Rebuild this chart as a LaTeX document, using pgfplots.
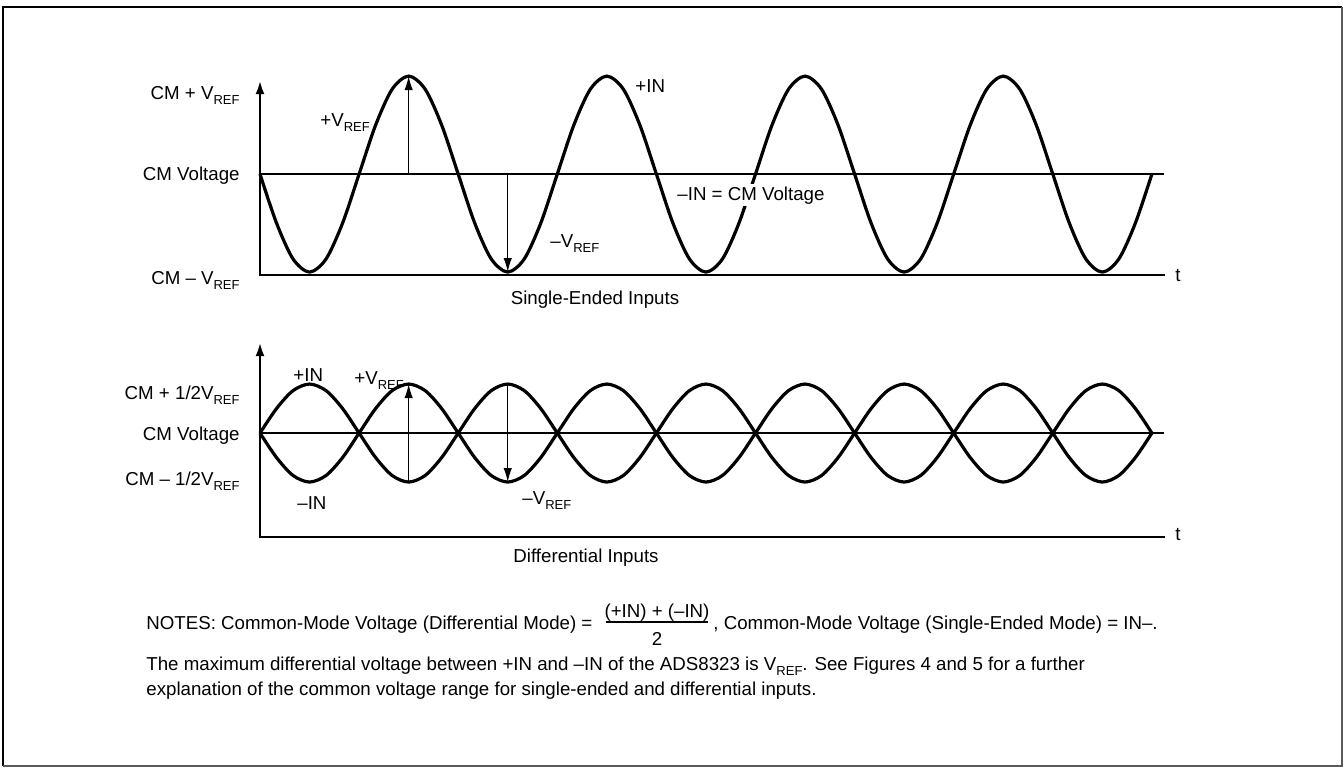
\documentclass[border=0pt]{standalone}
\usepackage{fontspec}
\setmainfont{Liberation Sans}
\usepackage{pgfplots}
\pgfplotsset{compat=1.18}
\usepackage{pgfplotstable}
\usetikzlibrary{arrows.meta}

% subscript as set in the datasheet (smaller, lowered)
\newcommand\sub[1]{\raisebox{-2.6pt}{\fontsize{6.5pt}{8pt}\selectfont #1}}
\newcommand\vref{V\sub{REF}}

% phase (deg), single-ended +IN (in VREF), differential +IN, differential -IN
\pgfplotstableread{
ph top pin nin
0 0 0 0
30 -0.5 0.25 -0.25
60 -0.866 0.433 -0.433
90 -1 0.5 -0.5
120 -0.866 0.433 -0.433
150 -0.5 0.25 -0.25
180 0 0 0
210 0.5 -0.25 0.25
240 0.866 -0.433 0.433
270 1 -0.5 0.5
300 0.866 -0.433 0.433
330 0.5 -0.25 0.25
360 0 0 0
390 -0.5 0.25 -0.25
420 -0.866 0.433 -0.433
450 -1 0.5 -0.5
480 -0.866 0.433 -0.433
510 -0.5 0.25 -0.25
540 0 0 0
570 0.5 -0.25 0.25
600 0.866 -0.433 0.433
630 1 -0.5 0.5
660 0.866 -0.433 0.433
690 0.5 -0.25 0.25
720 0 0 0
750 -0.5 0.25 -0.25
780 -0.866 0.433 -0.433
810 -1 0.5 -0.5
840 -0.866 0.433 -0.433
870 -0.5 0.25 -0.25
900 0 0 0
930 0.5 -0.25 0.25
960 0.866 -0.433 0.433
990 1 -0.5 0.5
1020 0.866 -0.433 0.433
1050 0.5 -0.25 0.25
1080 0 0 0
1110 -0.5 0.25 -0.25
1140 -0.866 0.433 -0.433
1170 -1 0.5 -0.5
1200 -0.866 0.433 -0.433
1230 -0.5 0.25 -0.25
1260 0 0 0
1290 0.5 -0.25 0.25
1320 0.866 -0.433 0.433
1350 1 -0.5 0.5
1380 0.866 -0.433 0.433
1410 0.5 -0.25 0.25
1440 0 0 0
1470 -0.5 0.25 -0.25
1500 -0.866 0.433 -0.433
1530 -1 0.5 -0.5
1560 -0.866 0.433 -0.433
1590 -0.5 0.25 -0.25
1620 0 0 0
}\wave

\pgfplotsset{
  wave axis/.style={
    scale only axis, width=452pt, height=97.5pt, anchor=south west,
    axis lines=left, ticks=none, xmin=0, xmax=1642, clip=false,
    axis line style={line width=1.4pt, line cap=rect},
    x axis line style={-},
    y axis line style={-{Latex[length=7pt,width=4.4pt]}},
  },
  curve/.style={black, line width=1.6pt, smooth, no markers},
  thin/.style={black, line width=0.65pt, no markers},
  arr/.style={thin, -{Latex[length=7pt,width=4.2pt]}},
}

\begin{document}
\begin{tikzpicture}
% page frame (1 px = 0.5 pt)
\begin{scope}[x=0.5pt,y=-0.5pt]
\path (0,0) rectangle (1344,768);
\draw[line width=1.2pt] (3,766) -- (3,7) -- (1342,7);
\draw[line width=0.8pt, black!65] (1342,7) -- (1342,766) -- (3,766);
\end{scope}

% single-ended inputs
\begin{axis}[wave axis, at={(130pt,-137.5pt)}, ymin=-1.03, ymax=0.96]
\addplot[thin] coordinates {(0,0) (1642,0)};
\addplot[curve] table[x=ph, y=top] {\wave};
\addplot[arr] coordinates {(270,0) (270,1)};
\addplot[arr] coordinates {(450,0) (450,-1)};
\end{axis}

% differential inputs
\begin{axis}[wave axis, at={(130pt,-268.5pt)}, ymin=-1.061, ymax=0.929]
\addplot[thin] coordinates {(0,0) (1642,0)};
\addplot[curve] table[x=ph, y=pin] {\wave};
\addplot[curve] table[x=ph, y=nin] {\wave};
\addplot[arr] coordinates {(270,-0.5) (270,0.5)};
\addplot[arr] coordinates {(450,0.5) (450,-0.5)};
\end{axis}

\begin{scope}[x=0.5pt,y=-0.5pt, every node/.style={inner sep=0pt, font=\fontsize{9.35pt}{11pt}\selectfont}]
% top plot labels
\node[anchor=base east] at (240,99) {CM + \vref};
\node[anchor=base east] at (240,180) {CM Voltage};
\node[anchor=base east] at (240,284) {CM – \vref};
\node[anchor=base west] at (320,126) {+\vref};
\node[anchor=base west] at (635,92) {+IN};
\node[anchor=base west, fill=white, inner sep=1pt] at (675,200) {–IN = CM Voltage};
\node[anchor=base west] at (550,247) {–\vref};
\node[anchor=base] at (1178,281) {t};
\node[anchor=base] at (595,304) {Single-Ended Inputs};
% bottom plot labels
\node[anchor=base east] at (240,399) {CM + 1/2\vref};
\node[anchor=base east] at (240,440) {CM Voltage};
\node[anchor=base east] at (240,485) {CM – 1/2\vref};
\node[anchor=base west] at (293,381) {+IN};
\node[anchor=base west] at (354,384) {+\vref};
\node[anchor=base west] at (297,509) {–IN};
\node[anchor=base west] at (522,504) {–\vref};
\node[anchor=base] at (1178,540) {t};
\node[anchor=base] at (586,562) {Differential Inputs};
% notes
\node[anchor=base west] at (146,629) {NOTES: Common-Mode Voltage (Differential Mode) =};
\node[anchor=base] at (657,617) {(+IN) + (–IN)};
\draw[line width=0.6pt] (606,622) -- (708,622);
\node[anchor=base] at (657,645) {2};
\node[anchor=base west] at (713,629) {, Common-Mode Voltage (Single-Ended Mode) = IN–.};
\node[anchor=base west] at (146,670) {The maximum differential voltage between +IN and –IN of the ADS8323 is \vref. See Figures 4 and 5 for a further};
\node[anchor=base west] at (146,695) {explanation of the common voltage range for single-ended and differential inputs.};
\end{scope}
\end{tikzpicture}
\end{document}
